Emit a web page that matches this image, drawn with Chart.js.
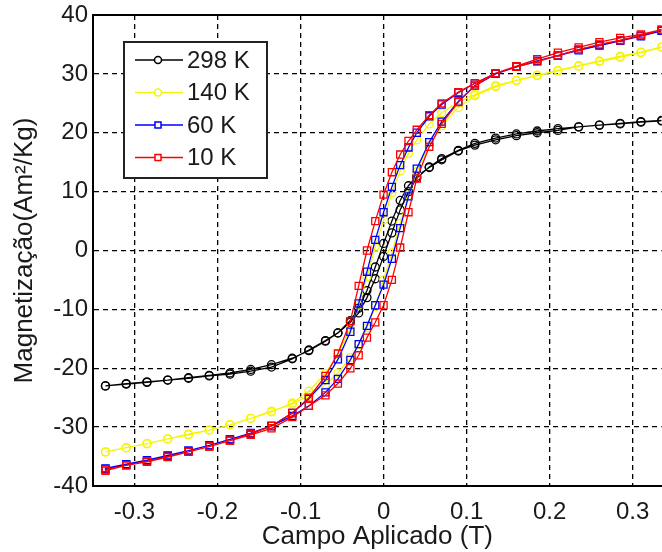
<!DOCTYPE html>
<html>
<head>
<meta charset="utf-8">
<script src="https://cdn.jsdelivr.net/npm/chart.js@4.4.0/dist/chart.umd.min.js"></script>
<style>
  html, body { margin: 0; padding: 0; background: #fff; overflow: hidden; }
  #grafico { display: block; }
</style>
</head>
<body>
<!-- un poco más ancho que la ventana: el gráfico original está cortado por la derecha -->
<canvas id="grafico" width="668" height="552"></canvas>
<script>
// Campo aplicado (T): rama descendente y rama ascendente del ciclo
const campoDesc = [0.335, 0.31, 0.285, 0.26, 0.235, 0.21, 0.185, 0.16, 0.135, 0.11, 0.09, 0.07, 0.055, 0.04, 0.03, 0.02, 0.01, 0,
  -0.01, -0.02, -0.03, -0.04, -0.055, -0.07, -0.09, -0.11, -0.135, -0.16, -0.185, -0.21, -0.235, -0.26, -0.285, -0.31, -0.335];
const campoAsc = [-0.335, -0.31, -0.285, -0.26, -0.235, -0.21, -0.185, -0.16, -0.135, -0.11, -0.09, -0.07, -0.055, -0.04, -0.03, -0.02, -0.01, 0,
  0.01, 0.02, 0.03, 0.04, 0.055, 0.07, 0.09, 0.11, 0.135, 0.16, 0.185, 0.21, 0.235, 0.26, 0.285, 0.31, 0.335];

// Magnetização (Am²/Kg)
const m298Desc = [22.0, 21.8, 21.5, 21.3, 21.0, 20.4, 20.0, 19.5, 18.8, 17.9, 16.9, 15.4, 14.1, 12.6, 11.0, 8.5, 5.0, 1.2,
  -2.8, -6.8, -9.8, -11.9, -14.0, -15.3, -16.9, -18.4, -19.8, -20.5, -21.0, -21.3, -21.7, -22.0, -22.4, -22.7, -23.0];
const m298Asc = [-23.0, -22.6, -22.3, -22.0, -21.6, -21.2, -20.8, -20.2, -19.4, -18.3, -17.0, -15.4, -14.0, -12.2, -10.6, -8.0, -4.8, -1.0,
  3.0, 6.9, 10.0, 12.3, 14.2, 15.6, 17.0, 18.2, 19.1, 19.8, 20.3, 20.7, 21.0, 21.3, 21.6, 21.9, 22.1];

const m140Desc = [34.5, 33.6, 32.8, 32.1, 31.3, 30.5, 29.7, 28.9, 28.0, 26.5, 25.2, 23.4, 21.5, 18.8, 16.5, 13.5, 9.8, 5.2,
  0.6, -4.5, -9.3, -13.3, -17.6, -20.9, -23.9, -25.9, -27.4, -28.5, -29.6, -30.5, -31.2, -32.0, -32.8, -33.5, -34.2];
const m140Asc = [-34.2, -33.5, -32.8, -32.0, -31.3, -30.5, -29.6, -28.5, -27.3, -26.1, -24.6, -22.7, -20.8, -18.2, -16.0, -13.1, -9.5, -5.0,
  -0.4, 4.6, 9.4, 13.4, 17.8, 21.2, 24.3, 26.3, 27.8, 28.9, 29.8, 30.6, 31.4, 32.2, 33.0, 33.7, 34.6];

const m60Desc = [37.3, 36.4, 35.6, 34.8, 34.0, 33.1, 32.2, 31.2, 30.1, 28.4, 26.8, 24.8, 22.8, 20.0, 17.5, 14.5, 10.8, 6.5,
  1.8, -3.6, -9.0, -13.8, -18.5, -22.0, -25.2, -27.6, -29.8, -31.1, -32.1, -33.1, -34.0, -34.9, -35.7, -36.4, -37.1];
const m60Asc = [-37.0, -36.3, -35.6, -34.8, -34.0, -33.1, -32.1, -31.0, -29.8, -28.1, -26.4, -24.1, -21.8, -18.6, -15.9, -12.8, -9.3, -5.8,
  -1.4, 3.8, 9.2, 13.9, 18.4, 21.9, 25.3, 28.0, 30.0, 31.2, 32.2, 33.1, 34.1, 34.9, 35.7, 36.5, 37.3];

const m10Desc = [37.5, 36.5, 35.7, 35.0, 34.1, 33.1, 32.1, 31.2, 30.1, 28.4, 26.9, 25.0, 23.0, 20.5, 18.6, 16.3, 13.3, 9.5,
  5.0, 0.0, -6.0, -12.0, -17.5, -21.3, -25.0, -27.6, -29.8, -31.1, -32.3, -33.3, -34.2, -35.1, -35.9, -36.5, -37.2];
const m10Asc = [-37.4, -36.5, -35.8, -35.0, -34.2, -33.3, -32.3, -31.3, -30.2, -28.3, -26.4, -24.6, -22.6, -20.0, -17.8, -14.8, -12.2, -9.3,
  -5.0, 0.5, 6.5, 12.2, 17.6, 21.5, 25.2, 28.0, 30.1, 31.3, 32.5, 33.6, 34.5, 35.4, 36.1, 36.7, 37.5];

const xTicks = [-0.3, -0.2, -0.1, 0, 0.1, 0.2, 0.3];
const xTickLabels = ["-0.3", "-0.2", "-0.1", "0", "0.1", "0.2", "0.3"];
const yTicks = [-40, -30, -20, -10, 0, 10, 20, 30, 40];

function ciclo(desc, asc) {
  const ida = campoDesc.map((h, i) => ({ x: h, y: desc[i] }));
  const vuelta = campoAsc.map((h, i) => ({ x: h, y: asc[i] }));
  return ida.concat(vuelta);
}

function serie(label, color, forma, desc, asc, orden) {
  return {
    label,
    data: ciclo(desc, asc),
    showLine: true,
    borderColor: color,
    borderWidth: 1.3,
    pointStyle: forma,
    pointRadius: forma === "rect" ? 5 : 4,
    pointBorderColor: color,
    pointBackgroundColor: "rgba(255,255,255,0)",
    pointBorderWidth: 1.3,
    order: orden
  };
}

const bordeSuperior = {
  id: "bordeSuperior",
  afterDraw(chart) {
    const { ctx, chartArea } = chart;
    ctx.save();
    ctx.strokeStyle = "#000";
    ctx.lineWidth = 2;
    ctx.beginPath();
    ctx.moveTo(chartArea.left, chartArea.top);
    ctx.lineTo(chartArea.right, chartArea.top);
    ctx.stroke();
    ctx.restore();
  }
};

// leyenda dentro del gráfico, como la de MATLAB
const leyenda = {
  id: "leyenda",
  afterDraw(chart) {
    const ctx = chart.ctx;
    const x0 = 124, y0 = 42, w = 143, h = 136;
    ctx.save();
    ctx.fillStyle = "#fff";
    ctx.fillRect(x0, y0, w, h);
    ctx.strokeStyle = "#222";
    ctx.lineWidth = 2;
    ctx.strokeRect(x0, y0, w, h);
    ctx.font = "24px 'Liberation Sans', Arial, sans-serif";
    ctx.textBaseline = "middle";
    chart.data.datasets.forEach((ds, i) => {
      const y = 60 + i * 32.5;
      ctx.strokeStyle = ds.borderColor;
      ctx.lineWidth = 1.5;
      ctx.beginPath();
      ctx.moveTo(135, y);
      ctx.lineTo(183, y);
      ctx.stroke();
      ctx.beginPath();
      if (ds.pointStyle === "rect") ctx.rect(155, y - 3, 6, 6);
      else ctx.arc(158, y, 3.5, 0, Math.PI * 2);
      ctx.fillStyle = "#fff";
      ctx.fill();
      ctx.stroke();
      ctx.fillStyle = "#1a1a1a";
      ctx.fillText(ds.label, 187, y + 1);
    });
    ctx.restore();
  }
};

Chart.defaults.font.family = "'Liberation Sans', Arial, sans-serif";
Chart.defaults.color = "#1a1a1a";

const ctx = document.getElementById("grafico").getContext("2d");

new Chart(ctx, {
  type: "scatter",
  data: {
    datasets: [
      serie("298 K", "#000000", "circle", m298Desc, m298Asc, 4),
      serie("140 K", "#f5f500", "circle", m140Desc, m140Asc, 3),
      serie("60 K", "#0000ff", "rect", m60Desc, m60Asc, 2),
      serie("10 K", "#ff0000", "rect", m10Desc, m10Asc, 1)
    ]
  },
  options: {
    responsive: false,
    animation: false,
    devicePixelRatio: 1,
    layout: { padding: { top: 15, right: 0, bottom: 0, left: 0 } },
    plugins: {
      legend: { display: false },
      tooltip: { enabled: false }
    },
    scales: {
      x: {
        type: "linear",
        min: -0.35,
        max: 0.335,
        afterBuildTicks: scale => { scale.ticks = xTicks.map(v => ({ value: v })); },
        afterFit: scale => { scale.height = 66; },
        ticks: {
          callback: (v, i) => xTickLabels[i],
          font: { size: 24 },
          padding: 12,
          maxRotation: 0,
          autoSkip: false
        },
        grid: { color: "#000", lineWidth: 1.3, drawTicks: false },
        border: { color: "#000", width: 2, dash: [5, 4] },
        title: {
          display: true,
          text: "Campo Aplicado (T)",
          font: { size: 26 },
          padding: { top: 0, bottom: 0 }
        }
      },
      y: {
        min: -40,
        max: 40,
        afterBuildTicks: scale => { scale.ticks = yTicks.map(v => ({ value: v })); },
        afterFit: scale => { scale.width = 93; },
        ticks: { font: { size: 24, lineHeight: 0.8 }, padding: 5 },
        grid: { color: "#000", lineWidth: 1.3, drawTicks: false },
        border: { color: "#000", width: 2, dash: [5, 4] },
        title: {
          display: true,
          text: "Magnetização(Am²/Kg)",
          font: { size: 26 },
          padding: { top: 9, bottom: 0 }
        }
      }
    }
  },
  plugins: [bordeSuperior, leyenda]
});
</script>
</body>
</html>
